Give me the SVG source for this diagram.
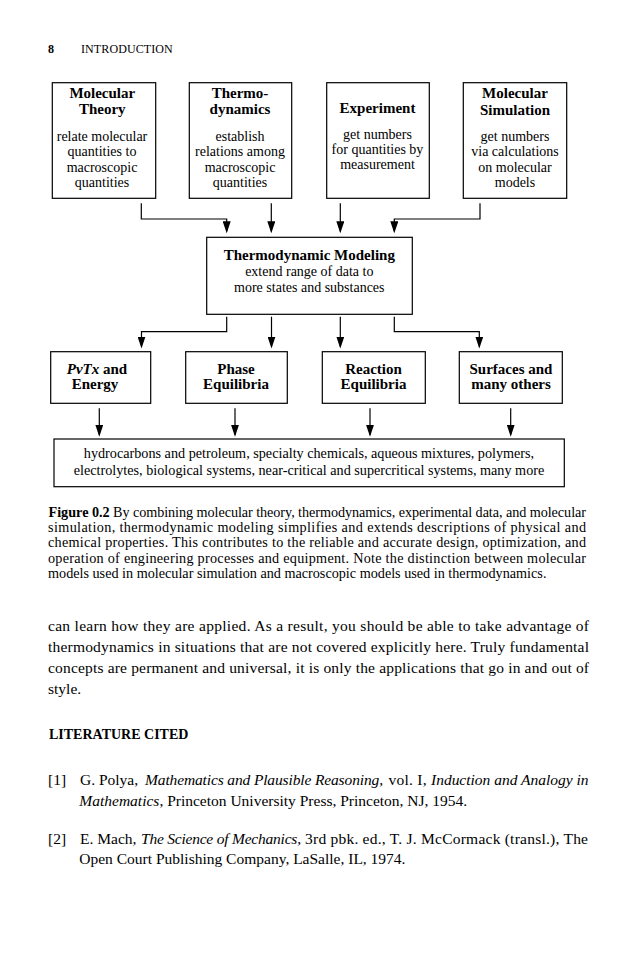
<svg xmlns="http://www.w3.org/2000/svg" width="638" height="968" viewBox="0 0 638 968">
<style>
text{font-family:"Liberation Serif","Times New Roman",serif;fill:#000}
.t{font-weight:bold;font-size:15px;text-anchor:middle}
.d{font-size:14px;text-anchor:middle}
.box{fill:#fff;stroke:#000;stroke-width:1.2}
.cap{font-size:14.2px}
.body{font-size:15.5px}
.it{font-style:italic}
#connectors path{fill:none;stroke:#000;stroke-width:1.2;marker-end:url(#ah)}
</style>
<defs>
<marker id="ah" viewBox="0 0 12 8" refX="10" refY="4" markerWidth="12" markerHeight="8" markerUnits="userSpaceOnUse" orient="auto"><path d="M0,0 L12,4 L0,8 z" fill="#000"/></marker>
</defs>
<rect width="638" height="968" fill="#fff"/>
<g id="header">
<text x="48" y="52.7" style="font-size:12px;font-weight:bold">8</text>
<text x="81" y="52.7" style="font-size:12px" textLength="91.7">INTRODUCTION</text>
</g>
<g id="molecular-theory">
<rect class="box" x="52.3" y="82.7" width="103.4" height="115.6"/>
<text class="t" x="102.3" y="97.7">Molecular</text>
<text class="t" x="102.3" y="114.3">Theory</text>
<text class="d" x="102" y="140.5">relate molecular</text>
<text class="d" x="102" y="156">quantities to</text>
<text class="d" x="102" y="171.5">macroscopic</text>
<text class="d" x="102" y="187">quantities</text>
</g>
<g id="thermodynamics">
<rect class="box" x="189.3" y="82.7" width="102.4" height="115.6"/>
<text class="t" x="240" y="97.7">Thermo-</text>
<text class="t" x="240" y="114.3">dynamics</text>
<text class="d" x="240" y="140.5">establish</text>
<text class="d" x="240" y="156">relations among</text>
<text class="d" x="240" y="171.5">macroscopic</text>
<text class="d" x="240" y="187">quantities</text>
</g>
<g id="experiment">
<rect class="box" x="326.7" y="82.7" width="102.6" height="115.6"/>
<text class="t" x="377.5" y="113.3">Experiment</text>
<text class="d" x="377.5" y="138.5">get numbers</text>
<text class="d" x="377.5" y="153.5">for quantities by</text>
<text class="d" x="377.5" y="168.5">measurement</text>
</g>
<g id="molecular-simulation">
<rect class="box" x="463.3" y="82.7" width="103.4" height="115.6"/>
<text class="t" x="515" y="98.3">Molecular</text>
<text class="t" x="515" y="115">Simulation</text>
<text class="d" x="515" y="140.5">get numbers</text>
<text class="d" x="515" y="156">via calculations</text>
<text class="d" x="515" y="171.5">on molecular</text>
<text class="d" x="515" y="187">models</text>
</g>
<g id="thermodynamic-modeling">
<rect class="box" x="206.7" y="237.3" width="205.6" height="77"/>
<text class="t" x="309.3" y="260">Thermodynamic Modeling</text>
<text class="d" x="309.3" y="276">extend range of data to</text>
<text class="d" x="309.3" y="292.3">more states and substances</text>
</g>
<g id="pvtx-energy">
<rect class="box" x="50.7" y="351.7" width="100" height="51.6"/>
<text class="t" x="97" y="374.3"><tspan class="it">PvTx</tspan> and</text>
<text class="t" x="95" y="389">Energy</text>
</g>
<g id="phase-equilibria">
<rect class="box" x="185.7" y="351.7" width="101.6" height="51.6"/>
<text class="t" x="236" y="374.3">Phase</text>
<text class="t" x="236" y="389">Equilibria</text>
</g>
<g id="reaction-equilibria">
<rect class="box" x="322.3" y="351.7" width="103" height="51.6"/>
<text class="t" x="373.5" y="374.3">Reaction</text>
<text class="t" x="373.5" y="389">Equilibria</text>
</g>
<g id="surfaces">
<rect class="box" x="459.3" y="351.7" width="103" height="51.6"/>
<text class="t" x="511" y="374.3">Surfaces and</text>
<text class="t" x="511" y="389">many others</text>
</g>
<g id="applications">
<rect class="box" x="54" y="439" width="510.3" height="47.7"/>
<text class="d" x="309" y="458.3" style="font-size:14.2px">hydrocarbons and petroleum, specialty chemicals, aqueous mixtures, polymers,</text>
<text class="d" x="309" y="475" style="font-size:14.2px">electrolytes, biological systems, near-critical and supercritical systems, many more</text>
</g>
<g id="connectors">
<path d="M141.3,203.3 V219 H226.7 V231.3"/>
<path d="M271.3,203.3 V231.3"/>
<path d="M340.3,203.3 V231.3"/>
<path d="M480,203.3 V219 H394.3 V231.3"/>
<path d="M226.7,316.7 V331.7 H141.5 V346.5"/>
<path d="M271.5,316.7 V346.5"/>
<path d="M340.3,316.7 V346.5"/>
<path d="M394.3,316.7 V331.7 H479.3 V346.5"/>
<path d="M99.3,408.3 V434.7"/>
<path d="M235,408.3 V434.7"/>
<path d="M370,408.3 V434.7"/>
<path d="M510.7,408.3 V434.7"/>
</g>
<g id="caption" class="cap">
<text x="48.5" y="517" style="font-weight:bold">Figure 0.2</text>
<text x="113" y="517" textLength="473">By combining molecular theory, thermodynamics, experimental data, and molecular</text>
<text x="48" y="532.2" textLength="538">simulation, thermodynamic modeling simplifies and extends descriptions of physical and</text>
<text x="48" y="547.4" textLength="538">chemical properties. This contributes to the reliable and accurate design, optimization, and</text>
<text x="48" y="562.6" textLength="538">operation of engineering processes and equipment. Note the distinction between molecular</text>
<text x="48" y="577.8">models used in molecular simulation and macroscopic models used in thermodynamics.</text>
</g>
<g id="body" class="body">
<text x="48" y="631" textLength="541">can learn how they are applied. As a result, you should be able to take advantage of</text>
<text x="48" y="652" textLength="541">thermodynamics in situations that are not covered explicitly here. Truly fundamental</text>
<text x="48" y="673" textLength="541">concepts are permanent and universal, it is only the applications that go in and out of</text>
<text x="48" y="694">style.</text>
</g>
<g id="literature" class="body">
<text x="49" y="739" style="font-size:14px;font-weight:bold">LITERATURE CITED</text>
<text x="48" y="785">[1]</text>
<text x="80" y="785">G. Polya,</text>
<text x="145" y="785" class="it" textLength="238">Mathematics and Plausible Reasoning,</text>
<text x="388.5" y="785" textLength="38">vol. I,</text>
<text x="431" y="785" class="it" textLength="157.5">Induction and Analogy in</text>
<text x="79.3" y="805.5"><tspan class="it">Mathematics</tspan>, Princeton University Press, Princeton, NJ, 1954.</text>
<text x="48" y="844">[2]</text>
<text x="80" y="844">E. Mach,</text>
<text x="141" y="844" class="it" textLength="160">The Science of Mechanics,</text>
<text x="305" y="844" textLength="283">3rd pbk. ed., T. J. McCormack (transl.), The</text>
<text x="79.3" y="864">Open Court Publishing Company, LaSalle, IL, 1974.</text>
</g>
</svg>
